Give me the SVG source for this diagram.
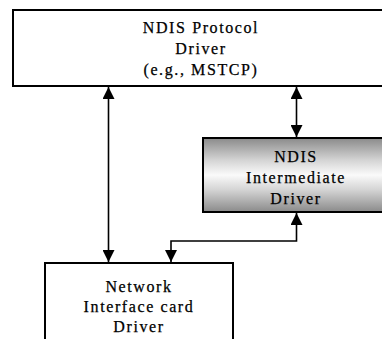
<svg xmlns="http://www.w3.org/2000/svg" width="382" height="339" viewBox="0 0 382 339">
<defs>
<marker id="ah" viewBox="0 0 12 12" refX="12" refY="6" markerWidth="12" markerHeight="12" markerUnits="userSpaceOnUse" orient="auto-start-reverse">
<path d="M0,0 L12,6 L0,12 z" fill="#000"/>
</marker>
<linearGradient id="g" x1="0" y1="0" x2="0" y2="1">
<stop offset="0" stop-color="#8a8a8a"/>
<stop offset="0.3" stop-color="#d4d4d4"/>
<stop offset="0.5" stop-color="#fafafa"/>
<stop offset="0.7" stop-color="#d4d4d4"/>
<stop offset="1" stop-color="#8a8a8a"/>
</linearGradient>
<style>
.box{fill:#fff;stroke:#000;stroke-width:2}
.t{font-family:"Liberation Serif",serif;font-size:16px;fill:#000;stroke:#000;stroke-width:0.25;text-anchor:middle;letter-spacing:1.6px}
.c{fill:none;stroke:#000;stroke-width:1.6}
</style>
</defs>
<g id="protocol">
<rect class="box" x="13" y="10" width="380" height="76"/>
<text class="t" x="201" y="33">NDIS Protocol</text>
<text class="t" x="201" y="54">Driver</text>
<text class="t" x="201" y="75">(e.g., MSTCP)</text>
</g>
<g id="intermediate">
<rect class="box" x="203" y="138" width="190" height="74" style="fill:url(#g)"/>
<text class="t" x="296" y="162">NDIS</text>
<text class="t" x="296" y="183">Intermediate</text>
<text class="t" x="296" y="204">Driver</text>
</g>
<g id="nic">
<rect class="box" x="45" y="263" width="188" height="90"/>
<text class="t" x="139" y="292">Network</text>
<text class="t" x="139" y="312">Interface card</text>
<text class="t" x="139" y="332">Driver</text>
</g>
<g id="connectors">
<path class="c" d="M108.5,87 V262" marker-start="url(#ah)" marker-end="url(#ah)"/>
<path class="c" d="M296.5,87 V137" marker-start="url(#ah)" marker-end="url(#ah)"/>
<path class="c" d="M296.5,213 V241 H171 V262" marker-start="url(#ah)" marker-end="url(#ah)"/>
</g>
</svg>
